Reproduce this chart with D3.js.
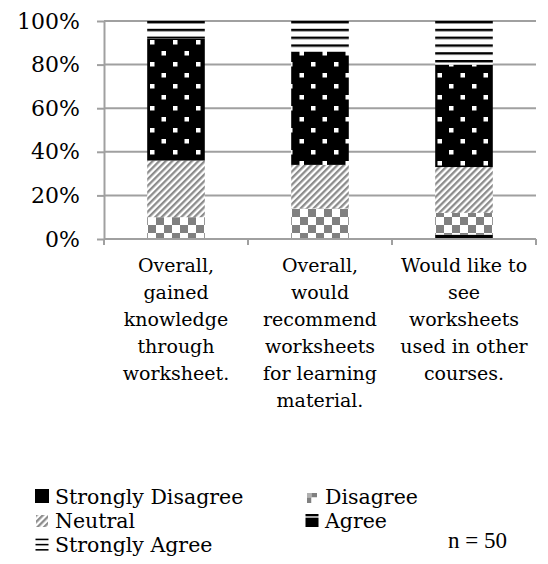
<!DOCTYPE html>
<html>
<head>
<meta charset="utf-8">
<script src="https://cdn.jsdelivr.net/npm/d3@7"></script>
<style>
body { margin: 0; background: #fff; }
</style>
</head>
<body>
<div id="root"></div>
<script>
// survey answers, percent of n = 50
const categories = [
    ['Overall,', 'gained', 'knowledge', 'through', 'worksheet.'],
    ['Overall,', 'would', 'recommend', 'worksheets', 'for learning', 'material.'],
    ['Would like to', 'see', 'worksheets', 'used in other', 'courses.'],
];
const levels = ['Strongly Disagree', 'Disagree', 'Neutral', 'Agree', 'Strongly Agree'];
const stronglyDisagree = [0, 0, 2];
const disagree = [10, 14, 10];
const neutral = [26, 20, 21];
const agree = [56, 52, 47];
const stronglyAgree = [8, 14, 20];
const yTicks = [0, 20, 40, 60, 80, 100];
const note = 'n = 50';

const width = 548;
const height = 564;
const plot = { left: 104, right: 536, top: 21, bottom: 239 };
const font = '"DejaVu Serif", serif';
const gridColor = '#a0a0a0';

const rows = categories.map((c, i) => ({
    idx: i,
    'Strongly Disagree': stronglyDisagree[i],
    Disagree: disagree[i],
    Neutral: neutral[i],
    Agree: agree[i],
    'Strongly Agree': stronglyAgree[i],
}));

const svg = d3.select('#root')
    .append('svg')
    .attr('width', width)
    .attr('height', height)
    .style('display', 'block');

// fill patterns, one per answer
const defs = svg.append('defs');

const checker = defs.append('pattern')
    .attr('id', 'p-checker')
    .attr('patternUnits', 'userSpaceOnUse')
    .attr('x', 148).attr('y', 225)
    .attr('width', 16).attr('height', 16);
checker.append('rect').attr('width', 16).attr('height', 16).attr('fill', '#fff');
checker.append('rect').attr('width', 8).attr('height', 8).attr('fill', '#808080');
checker.append('rect').attr('x', 8).attr('y', 8).attr('width', 8).attr('height', 8).attr('fill', '#808080');

const diag = defs.append('pattern')
    .attr('id', 'p-diag')
    .attr('patternUnits', 'userSpaceOnUse')
    .attr('width', 4.6).attr('height', 10)
    .attr('patternTransform', 'rotate(45)');
diag.append('rect').attr('width', 4.6).attr('height', 10).attr('fill', '#fff');
diag.append('rect').attr('width', 2.3).attr('height', 10).attr('fill', '#8c8c8c');

const dots = defs.append('pattern')
    .attr('id', 'p-dots')
    .attr('patternUnits', 'userSpaceOnUse')
    .attr('x', 150).attr('y', 40)
    .attr('width', 23).attr('height', 22);
dots.append('rect').attr('width', 23).attr('height', 22).attr('fill', '#000');
dots.append('rect').attr('width', 4.5).attr('height', 4.5).attr('fill', '#fff');
dots.append('rect').attr('x', 11.5).attr('y', 11).attr('width', 4.5).attr('height', 4.5).attr('fill', '#fff');

const hlines = defs.append('pattern')
    .attr('id', 'p-hlines')
    .attr('patternUnits', 'userSpaceOnUse')
    .attr('x', 0).attr('y', plot.top)
    .attr('width', 10).attr('height', 7.8);
hlines.append('rect').attr('width', 10).attr('height', 7.8).attr('fill', '#fff');
hlines.append('rect').attr('width', 10).attr('height', 2.4).attr('fill', '#000');

// smaller samples for the legend keys
const keyChecker = defs.append('pattern')
    .attr('id', 'k-checker')
    .attr('patternUnits', 'objectBoundingBox')
    .attr('patternContentUnits', 'objectBoundingBox')
    .attr('width', 1).attr('height', 1);
keyChecker.append('rect').attr('width', 1).attr('height', 1).attr('fill', '#fff');
keyChecker.append('rect').attr('width', 0.45).attr('height', 0.45).attr('fill', '#b0b0b0');
keyChecker.append('rect').attr('x', 0.45).attr('width', 0.55).attr('height', 0.45).attr('fill', '#808080');
keyChecker.append('rect').attr('y', 0.45).attr('width', 0.45).attr('height', 0.55).attr('fill', '#808080');
keyChecker.append('rect').attr('x', 0.45).attr('y', 0.45).attr('width', 0.55).attr('height', 0.55).attr('fill', '#fff');

const keyAgree = defs.append('pattern')
    .attr('id', 'k-agree')
    .attr('patternUnits', 'objectBoundingBox')
    .attr('patternContentUnits', 'objectBoundingBox')
    .attr('width', 1).attr('height', 1);
keyAgree.append('rect').attr('width', 1).attr('height', 1).attr('fill', '#000');
keyAgree.append('rect').attr('y', 0.18).attr('width', 1).attr('height', 0.1).attr('fill', '#fff');

const keyLines = defs.append('pattern')
    .attr('id', 'k-hlines')
    .attr('patternUnits', 'objectBoundingBox')
    .attr('patternContentUnits', 'objectBoundingBox')
    .attr('width', 1).attr('height', 1);
keyLines.append('rect').attr('width', 1).attr('height', 1).attr('fill', '#fff');
[0.05, 0.45, 0.85].forEach(v => keyLines.append('rect')
    .attr('y', v).attr('width', 1).attr('height', 0.12).attr('fill', '#000'));

const fills = d3.scaleOrdinal()
    .domain(levels)
    .range(['#000', 'url(#p-checker)', 'url(#p-diag)', 'url(#p-dots)', 'url(#p-hlines)']);

const keyFills = d3.scaleOrdinal()
    .domain(levels)
    .range(['#000', 'url(#k-checker)', 'url(#p-diag)', 'url(#k-agree)', 'url(#k-hlines)']);

const x = d3.scaleBand()
    .domain(categories.map((c, i) => i))
    .range([plot.left, plot.right])
    .paddingInner(0.6)
    .paddingOuter(0.3);

const y = d3.scaleLinear()
    .domain([0, 100])
    .range([plot.bottom, plot.top]);

// gridlines
svg.append('g')
    .selectAll('line')
    .data(yTicks)
    .join('line')
    .attr('x1', plot.left)
    .attr('x2', plot.right)
    .attr('y1', d => y(d))
    .attr('y2', d => y(d))
    .attr('stroke', gridColor)
    .attr('stroke-width', 2);

// stacked bars
const series = d3.stack().keys(levels)(rows);

svg.append('g')
    .selectAll('g')
    .data(series)
    .join('g')
    .attr('fill', d => fills(d.key))
    .selectAll('rect')
    .data(d => d.filter(s => s[1] > s[0]))
    .join('rect')
    .attr('x', d => x(d.data.idx))
    .attr('width', x.bandwidth())
    .attr('y', d => y(d[1]))
    .attr('height', d => y(d[0]) - y(d[1]));

// y axis
const yAxis = svg.append('g')
    .attr('transform', `translate(${plot.left},0)`)
    .call(d3.axisLeft(y)
        .tickValues(yTicks)
        .tickFormat(d => `${d}%`)
        .tickSizeInner(7)
        .tickSizeOuter(0)
        .tickPadding(17));
yAxis.select('.domain').attr('stroke', gridColor).attr('stroke-width', 2);
yAxis.selectAll('.tick line').attr('stroke', gridColor).attr('stroke-width', 2);
yAxis.selectAll('.tick text')
    .attr('fill', '#000')
    .style('font-family', font)
    .style('font-size', '22px');

// x axis line and category dividers
svg.append('line')
    .attr('x1', plot.left)
    .attr('x2', plot.right)
    .attr('y1', plot.bottom)
    .attr('y2', plot.bottom)
    .attr('stroke', gridColor)
    .attr('stroke-width', 2);

const dividers = d3.range(categories.length + 1)
    .map(i => plot.left + i * x.step());
svg.append('g')
    .selectAll('line')
    .data(dividers)
    .join('line')
    .attr('x1', d => d)
    .attr('x2', d => d)
    .attr('y1', plot.bottom)
    .attr('y2', plot.bottom + 6)
    .attr('stroke', gridColor)
    .attr('stroke-width', 2);

// category labels
svg.append('g')
    .selectAll('text')
    .data(categories)
    .join('text')
    .attr('text-anchor', 'middle')
    .style('font-family', font)
    .style('font-size', '19px')
    .attr('fill', '#000')
    .each(function (lines, i) {
        d3.select(this)
            .selectAll('tspan')
            .data(lines)
            .join('tspan')
            .attr('x', x(i) + x.bandwidth() / 2)
            .attr('y', (d, k) => 272 + k * 27)
            .text(d => d);
    });

// legend
const legendPos = [
    { x: 35, y: 504 }, { x: 305, y: 504 },
    { x: 35, y: 528 }, { x: 305, y: 528 },
    { x: 35, y: 552 },
];
const keySize = [14, 10, 12, 13, 13];
const legend = svg.append('g')
    .selectAll('g')
    .data(levels)
    .join('g')
    .attr('transform', (d, i) => `translate(${legendPos[i].x},${legendPos[i].y})`);

legend.append('rect')
    .attr('x', (d, i) => (14 - keySize[i]) / 2)
    .attr('y', (d, i) => -1 - keySize[i])
    .attr('width', (d, i) => keySize[i])
    .attr('height', (d, i) => keySize[i])
    .attr('fill', d => keyFills(d));

legend.append('text')
    .attr('x', 20)
    .attr('y', 0)
    .style('font-family', font)
    .style('font-size', '20.5px')
    .attr('fill', '#000')
    .text(d => d);

svg.append('text')
    .attr('x', 448)
    .attr('y', 548)
    .style('font-family', '"Liberation Serif", serif')
    .style('font-size', '23px')
    .attr('fill', '#000')
    .text(note);
</script>
</body>
</html>
